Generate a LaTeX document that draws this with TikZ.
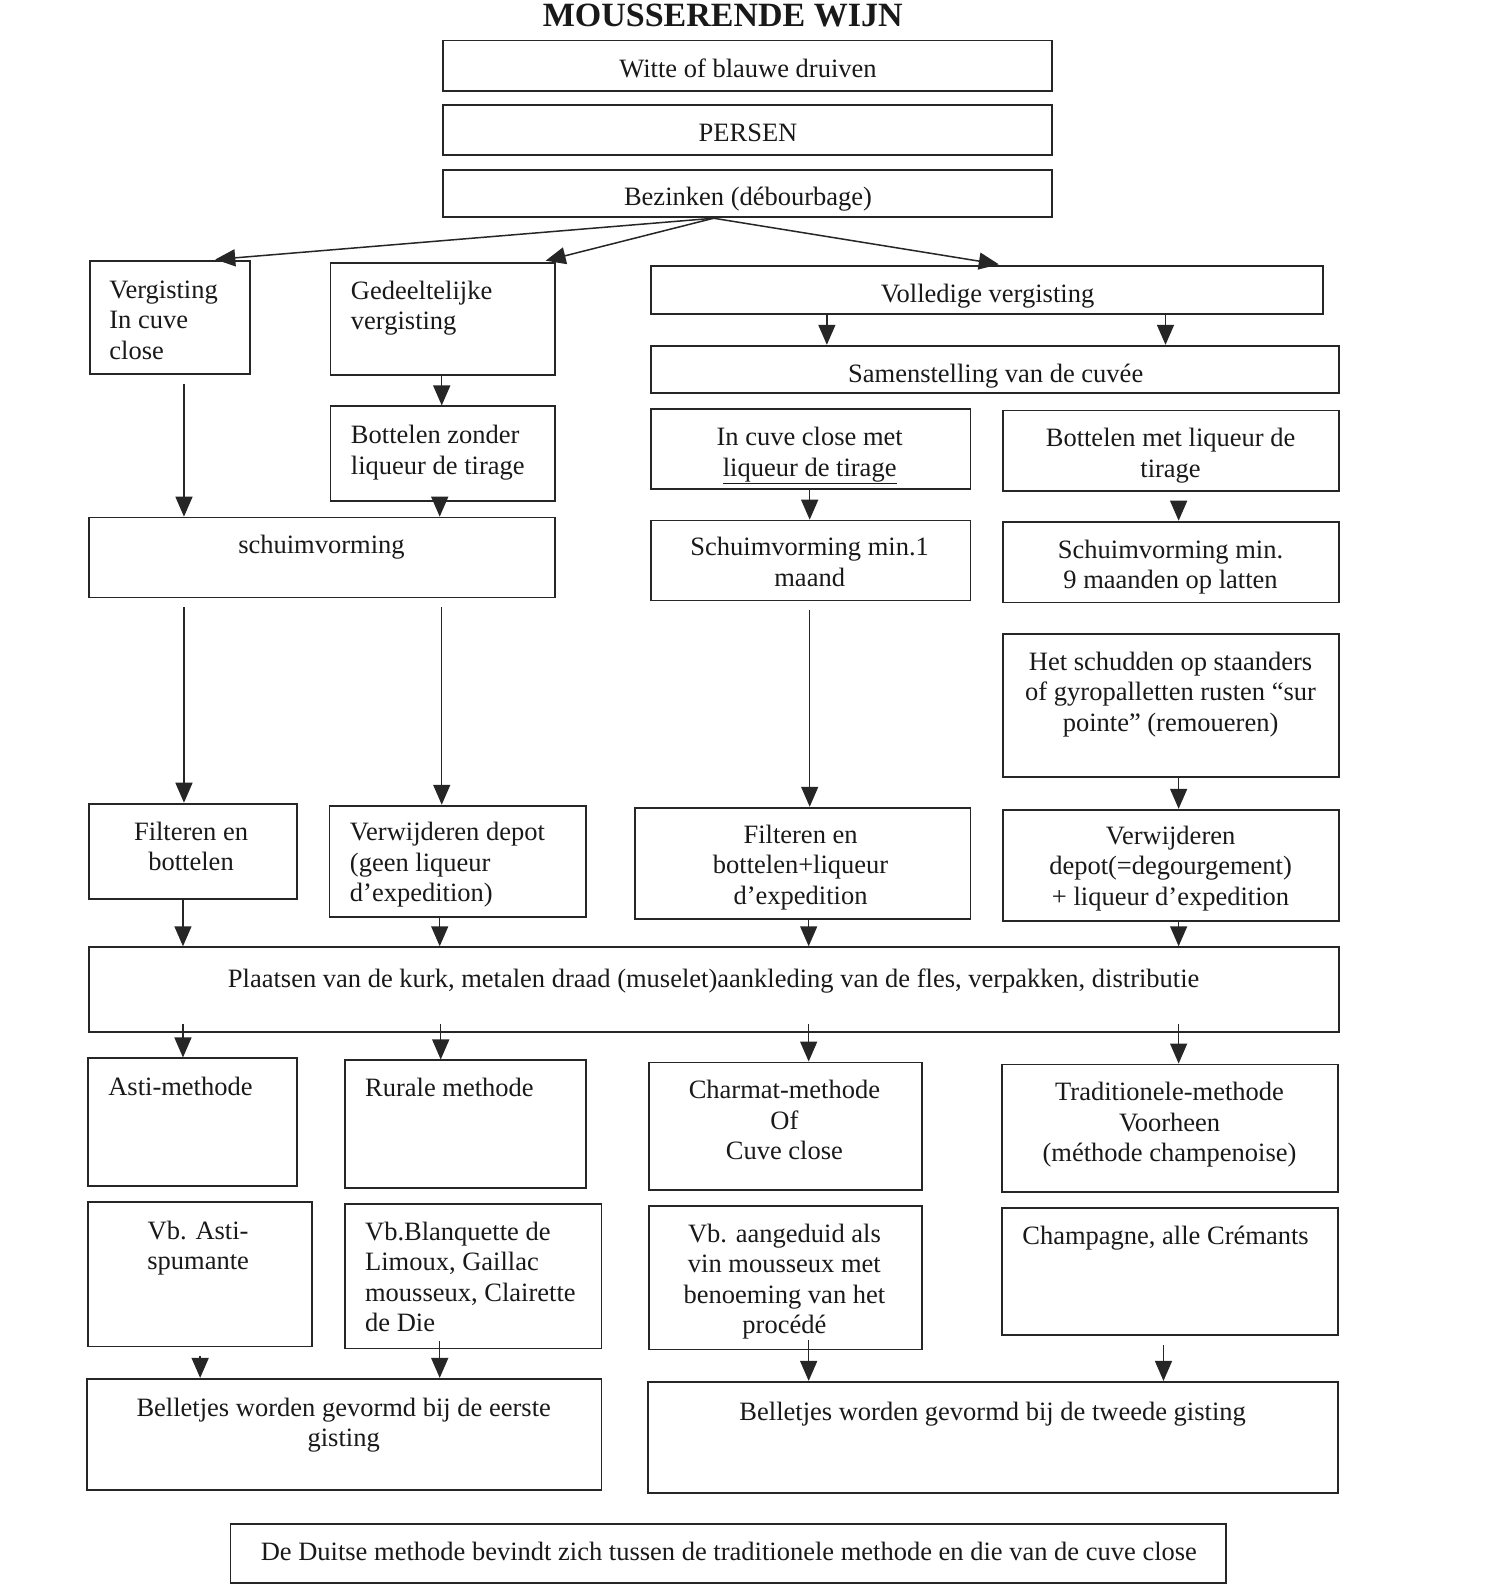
\documentclass[tikz,border=0pt]{standalone}
\usepackage{fontspec}
\setmainfont{Liberation Serif}
\usetikzlibrary{arrows.meta,fit}
\begin{document}
\begin{tikzpicture}[x=1.0108pt,y=-1.0108pt,
  box/.style={draw=black!85,line width=1.8pt,inner sep=0pt},
  txt/.style={inner sep=0pt,font=\fontsize{26.5}{30.5}\selectfont,text=black!90},
  arr/.style={draw=black!85,line width=1.5pt,-{Triangle[length=20pt,width=17pt]}},
  gap/.style={shorten <=9pt}]
\useasboundingbox[fill=white] (0,0) rectangle (1486,1568);
\newcommand\bx[5]{\node[box,fit={(#2,#3) (#4,#5)}] (#1) {};}
% title
\node[txt,anchor=base,font=\fontsize{34}{38}\selectfont\bfseries] (title) at (715,26) {MOUSSERENDE WIJN};
% boxes
\bx{w}{438}{40}{1041}{90}
\bx{p}{438}{104}{1041}{153}
\bx{b}{438}{168}{1041}{215}
\bx{v1}{89}{258}{247}{370}
\bx{g}{327}{260}{549}{371}
\bx{vv}{644}{263}{1309}{311}
\bx{sam}{644}{342}{1325}{389}
\bx{bz}{327}{402}{549}{496}
\bx{icc}{644}{405}{960}{484}
\bx{bm}{992}{406}{1325}{486}
\bx{sch}{88}{512}{549}{591}
\bx{s1}{644}{515}{960}{594}
\bx{s9}{992}{516}{1325}{596}
\bx{hs}{992}{627}{1325}{769}
\bx{f1}{88}{795}{294}{889}
\bx{vd}{326}{797}{580}{907}
\bx{f2}{628}{799}{960}{909}
\bx{vd2}{992}{801}{1325}{911}
\bx{pl}{88}{937}{1325}{1021}
\bx{am}{87}{1047}{294}{1173}
\bx{rm}{341}{1049}{580}{1175}
\bx{cm}{642}{1051}{912}{1177}
\bx{tm}{991}{1053}{1324}{1179}
\bx{e1}{87}{1189}{309}{1332}
\bx{e2}{341}{1191}{595}{1334}
\bx{e3}{642}{1193}{912}{1335}
\bx{e4}{991}{1195}{1324}{1321}
\bx{bl1}{86}{1364}{595}{1474}
\bx{bl2}{641}{1367}{1324}{1477}
\bx{dm}{228}{1508}{1213}{1566}
% texts (anchor = baseline of the last line)
\node[txt,anchor=base] (tw) at (740,77) {Witte of blauwe druiven};
\node[txt,anchor=base] (tp) at (740,140) {PERSEN};
\node[txt,anchor=base] (tb) at (740,203) {Bezinken (débourbage)};
\node[txt,anchor=base west,align=left] (tv1) at (108,355.3) {Vergisting\\In cuve\\close};
\node[txt,anchor=base west,align=left] (tg) at (347,326.2) {Gedeeltelijke\\vergisting};
\node[txt,anchor=base] (tvv) at (977,299) {Volledige vergisting};
\node[txt,anchor=base] (tsam) at (985,378) {Samenstelling van de cuvée};
\node[txt,anchor=base west,align=left] (tbz) at (347,469.2) {Bottelen zonder\\liqueur de tirage};
\node[txt,anchor=base,align=center] (ticc) at (801,471.2) {In cuve close met\\\underline{liqueur de tirage}};
\node[txt,anchor=base,align=center] (tbm) at (1158,472.2) {Bottelen met liqueur de\\tirage};
\node[txt,anchor=base] (tsch) at (318,548) {schuimvorming};
\node[txt,anchor=base,align=center] (ts1) at (801,580.2) {Schuimvorming min.1\\maand};
\node[txt,anchor=base,align=center] (ts9) at (1158,582.2) {Schuimvorming min.\\ 9 maanden op latten};
\node[txt,anchor=base,align=center] (ths) at (1158,723.3) {Het schudden op staanders\\of gyropalletten rusten “sur\\pointe” (remoueren)};
\node[txt,anchor=base,align=center] (tf1) at (189,861.2) {Filteren en\\bottelen};
\node[txt,anchor=base west,align=left] (tvd) at (346,892.3) {Verwijderen depot\\(geen liqueur\\d’expedition)};
\node[txt,anchor=base,align=center] (tf2) at (792,894.3) {Filteren en\\bottelen+liqueur\\d’expedition};
\node[txt,anchor=base,align=center] (tvd2) at (1158,895.3) {Verwijderen\\depot(=degourgement)\\+ liqueur d’expedition};
\node[txt,anchor=base] (tpl) at (706,977) {Plaatsen van de kurk, metalen draad (muselet)aankleding van de fles, verpakken, distributie};
\node[txt,anchor=base west] (tam) at (107,1084) {Asti-methode};
\node[txt,anchor=base west] (trm) at (361,1085) {Rurale methode};
\node[txt,anchor=base,align=center] (tcm) at (776,1147.3) {Charmat-methode\\Of\\Cuve close};
\node[txt,anchor=base,align=center] (ttm) at (1157,1149.3) {Traditionele-methode\\Voorheen\\(méthode champenoise)};
\node[txt,anchor=base,align=center] (te1) at (196,1256.2) {Vb. Asti-\\spumante};
\node[txt,anchor=base west,align=left] (te2) at (361,1317.5) {Vb.Blanquette de\\Limoux, Gaillac\\mousseux, Clairette\\de Die};
\node[txt,anchor=base,align=center] (te3) at (776,1319.5) {Vb. aangeduid als\\vin mousseux met\\benoeming van het\\procédé};
\node[txt,anchor=base] (te4) at (1153,1231) {Champagne, alle Crémants};
\node[txt,anchor=base,align=center] (tbl1) at (340,1431.2) {Belletjes worden gevormd bij de eerste\\gisting};
\node[txt,anchor=base] (tbl2) at (982,1405) {Belletjes worden gevormd bij de tweede gisting};
\node[txt,anchor=base] (tdm) at (721,1544) {De Duitse methode bevindt zich tussen de traditionele methode en die van de cuve close};
% arrows from Bezinken
\draw[arr,shorten >=5pt] (b.south -| 706,0) -- (v1.north -| 208,0);
\draw[arr,shorten >=5pt] (b.south -| 706,0) -- (g.north -| 535,0);
\draw[arr,shorten >=4pt] (b.south -| 706,0) -- (vv.north -| 992,0);
% vertical arrows
\draw[arr] (vv.south -| 818,0) -- (sam.north -| 818,0);
\draw[arr] (vv.south -| 1153,0) -- (sam.north -| 1153,0);
\draw[arr] (g.south -| 437,0) -- (bz.north -| 437,0);
\draw[arr,gap] (v1.south -| 182,0) -- (sch.north -| 182,0);
\draw[arr,shorten <=-10pt] (bz.south -| 435,0) -- (sch.north -| 435,0);
\draw[arr] (icc.south -| 801,0) -- (s1.north -| 801,0);
\draw[arr,gap] (bm.south -| 1166,0) -- (s9.north -| 1166,0);
\draw[arr,gap] (sch.south -| 182,0) -- (f1.north -| 182,0);
\draw[arr,gap] (sch.south -| 437,0) -- (vd.north -| 437,0);
\draw[arr,gap] (s1.south -| 801,0) -- (f2.north -| 801,0);
\draw[arr] (hs.south -| 1166,0) -- (vd2.north -| 1166,0);
\draw[arr] (f1.south -| 181,0) -- (pl.north -| 181,0);
\draw[arr] (vd.south -| 435,0) -- (pl.north -| 435,0);
\draw[arr] (f2.south -| 800,0) -- (pl.north -| 800,0);
\draw[arr] (vd2.south -| 1166,0) -- (pl.north -| 1166,0);
\draw[arr,shorten <=-9pt] (pl.south -| 181,0) -- (am.north -| 181,0);
\draw[arr,shorten <=-9pt] (pl.south -| 436,0) -- (rm.north -| 436,0);
\draw[arr,shorten <=-9pt] (pl.south -| 800,0) -- (cm.north -| 800,0);
\draw[arr,shorten <=-9pt] (pl.south -| 1166,0) -- (tm.north -| 1166,0);
\draw[arr,gap] (e1.south -| 198,0) -- (bl1.north -| 198,0);
\draw[arr,shorten <=-8pt] (e2.south -| 435,0) -- (bl1.north -| 435,0);
\draw[arr,shorten <=-10pt] (e3.south -| 800,0) -- (bl2.north -| 800,0);
\draw[arr,gap] (e4.south -| 1151,0) -- (bl2.north -| 1151,0);
\end{tikzpicture}
\end{document}
